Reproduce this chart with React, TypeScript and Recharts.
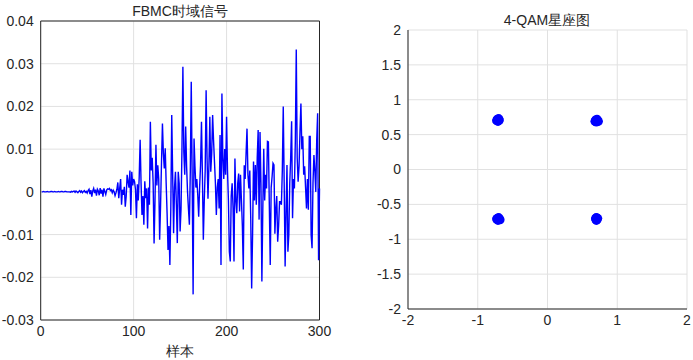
import {
  CartesianGrid,
  Line,
  LineChart,
  ReferenceLine,
  Scatter,
  ScatterChart,
  XAxis,
  YAxis,
  ZAxis
} from "recharts";

// FBMC time-domain samples 1..300
const fbmcSignal = [
  0, 0, 0.0001, 0, 0, 0, 0.0001, 0, 0, 0,
  0.0001, 0.0001, 0, 0, 0.0001, 0, 0, 0, 0.0001, 0,
  0, 0.0001, 0.0001, 0, 0, 0.0001, 0.0001, 0, 0, 0,
  0, -0.0001, 0.0001, 0, 0.0001, 0.0002, -0.0001, 0.0002, 0, -0.0002,
  0.0001, 0.0003, -0.0001, 0.0002, -0.0002, 0.0001, 0.0003, -0.0001, 0.0001, -0.0003,
  0.0003, 0.0006, -0.0005, 0.0004, -0.0011, 0.0002, 0.0008, -0.0003, 0.0005, -0.0009,
  0.0006, 0.0002, -0.0008, 0.0009, -0.0004, 0.0005, -0.0011, 0.0008, 0.0001, -0.0006,
  0.0004, 0.0007, 0.0006, 0.0008, 0.0003, 0.0005, -0.0002, 0.0004, 0, -0.0009,
  -0.0002, 0.0006, 0.0022, -0.0015, 0.0008, 0.003, -0.003, 0.0005, -0.0007, 0.0012,
  -0.0035, -0.001, 0.004, 0.0024, 0.001, 0.005, -0.0054, 0.0047, 0.0015, 0.003,
  0.0024, 0.0005, -0.0062, 0.0018, -0.002, 0.0035, 0.0122, 0.002, -0.0054, -0.001,
  -0.0077, 0.0025, -0.0015, 0.0008, -0.0086, 0.001, -0.003, 0.0164, 0.005, 0.008,
  0.002, -0.0121, -0.002, 0.011, 0.0015, 0.0062, 0.003, -0.0112, -0.003, 0.007,
  0.016, 0.009, 0.0055, 0.0102, 0.002, -0.005, -0.0136, -0.008, -0.0171, -0.004,
  0.018, 0.004, -0.0097, 0.001, 0.0047, -0.003, -0.012, 0.0047, 0.002, -0.0093,
  -0.004, 0.01, 0.0293, 0.0094, 0.004, 0.0153, 0.006, 0, -0.004, -0.0077,
  0.005, 0.0258, 0.003, -0.024, 0.0125, 0.006, 0.001, 0.003, -0.0007, -0.0058,
  0.001, 0.0063, 0.0164, 0.004, -0.0112, -0.002, 0.005, 0.0238, 0.008, -0.0016,
  0.006, 0.0176, 0.0047, 0.009, 0.018, 0.012, 0.007, 0.002, -0.0054, 0.001,
  0.003, -0.0039, 0.0133, -0.0171, 0.023, 0.008, 0.003, 0.01, 0.004, 0.0176,
  0.005, -0.002, -0.014, -0.0163, -0.001, 0.002, -0.0038, -0.0163, 0.0078, -0.002,
  -0.005, 0.002, 0.0043, -0.0046, 0.004, -0.002, -0.008, -0.0182, 0.0062, 0.003,
  0.009, 0.0148, 0.004, 0.0008, 0.005, -0.006, -0.0226, -0.01, 0.0071, -0.002,
  0.0063, -0.003, 0.008, 0.0145, -0.0065, 0.014, 0.002, -0.021, -0.004, 0.0101,
  -0.002, 0.004, 0.0008, 0.0118, 0.0117, -0.003, -0.0171, 0.001, 0.0036, 0.0067,
  0.0063, -0.0098, -0.004, -0.001, -0.0117, -0.008, -0.0023, -0.0023, -0.003, 0.005,
  0.02, 0.002, -0.0175, -0.005, 0.0063, -0.014, -0.01, 0.002, 0.008, 0.0165,
  -0.0062, 0.003, 0.0008, 0.012, 0.0333, 0.008, 0.0024, 0.006, 0.014, 0.0207,
  0.01, 0.013, 0.004, 0.006, 0.001, -0.0039, 0.003, -0.0042, 0.013, 0.013,
  -0.0101, -0.0132, 0.002, 0.0086, 0.005, 0, 0.012, 0.0184, -0.016, 0.0008
];

const signalXTicks = [0, 100, 200, 300];
const signalYTicks = [-0.03, -0.02, -0.01, 0, 0.01, 0.02, 0.03, 0.04];

// received 4-QAM symbols (in-phase / quadrature)
const qamI = [
  -0.72, -0.7, -0.69, -0.71, -0.73, -0.7, -0.72,
  0.69, 0.71, 0.72, 0.7, 0.68, 0.73, 0.7,
  -0.72, -0.7, -0.69, -0.71, -0.73, -0.68, -0.7,
  0.7, 0.71, 0.69, 0.72, 0.7, 0.71, 0.69
];
const qamQ = [
  0.72, 0.73, 0.71, 0.69, 0.7, 0.7, 0.71,
  0.71, 0.72, 0.7, 0.68, 0.69, 0.69, 0.7,
  -0.7, -0.69, -0.71, -0.73, -0.71, -0.72, -0.7,
  -0.69, -0.72, -0.71, -0.7, -0.73, -0.7, -0.7
];

const qamXTicks = [-2, -1, 0, 1, 2];
const qamYTicks = [-2, -1.5, -1, -0.5, 0, 0.5, 1, 1.5, 2];

const signalData = fbmcSignal.map((v, i) => ({ n: i + 1, v }));
const qamData = qamI.map((i, k) => ({ i, q: qamQ[k] }));

const ink = "#262626";
const gridColor = "#e1e1e1";
const font = "'Liberation Sans', Arial, sans-serif";
const tick = { fill: ink, fontSize: 14, fontFamily: font };

const textStyle = {
  position: "absolute" as const,
  fontFamily: font,
  fontSize: 14,
  lineHeight: "16px",
  color: ink,
  textAlign: "center" as const,
  whiteSpace: "nowrap" as const
};

export default function App() {
  return (
    <div style={{ position: "absolute", left: 0, top: 0, width: 693, height: 360, background: "#fff" }}>
      <div style={{ ...textStyle, left: 80, width: 200, top: 3 }}>FBMC时域信号</div>
      <div style={{ ...textStyle, left: 80, width: 200, top: 343 }}>样本</div>
      <div style={{ ...textStyle, left: 447, width: 200, top: 12 }}>4-QAM星座图</div>

      <div style={{ position: "absolute", left: 0, top: 0 }}>
        <LineChart width={340} height={360} data={signalData} margin={{ top: 21, right: 20.5, bottom: 0, left: 0 }}>
          <CartesianGrid stroke={gridColor} />
          <XAxis
            type="number"
            dataKey="n"
            domain={[0, 300]}
            ticks={signalXTicks}
            interval={0}
            height={40}
            tick={tick}
            tickLine={false}
            tickSize={0}
            tickMargin={6}
            axisLine={{ stroke: ink }}
          />
          <YAxis
            type="number"
            domain={[-0.03, 0.04]}
            ticks={signalYTicks}
            interval={0}
            width={40.7}
            tick={tick}
            tickLine={false}
            tickSize={0}
            tickMargin={7}
            axisLine={{ stroke: ink }}
          />
          <ReferenceLine y={0.04} stroke={ink} />
          <ReferenceLine x={300} stroke={ink} />
          <Line
            type="linear"
            dataKey="v"
            stroke="#0000ff"
            strokeWidth={1.4}
            dot={false}
            isAnimationActive={false}
          />
        </LineChart>
      </div>

      <div style={{ position: "absolute", left: 350, top: 0 }}>
        <ScatterChart width={343} height={360} margin={{ top: 30, right: 6, bottom: 21, left: 0 }}>
          <CartesianGrid stroke={gridColor} />
          <XAxis
            type="number"
            dataKey="i"
            domain={[-2, 2]}
            ticks={qamXTicks}
            interval={0}
            height={30}
            tick={tick}
            tickLine={false}
            tickSize={0}
            tickMargin={6}
            axisLine={{ stroke: ink }}
          />
          <YAxis
            type="number"
            dataKey="q"
            domain={[-2, 2]}
            ticks={qamYTicks}
            interval={0}
            width={58}
            tick={tick}
            tickLine={false}
            tickSize={0}
            tickMargin={7}
            axisLine={{ stroke: ink }}
          />
          <ZAxis range={[36, 36]} />
          <Scatter data={qamData} fill="#0000ff" isAnimationActive={false} />
        </ScatterChart>
      </div>
    </div>
  );
}
